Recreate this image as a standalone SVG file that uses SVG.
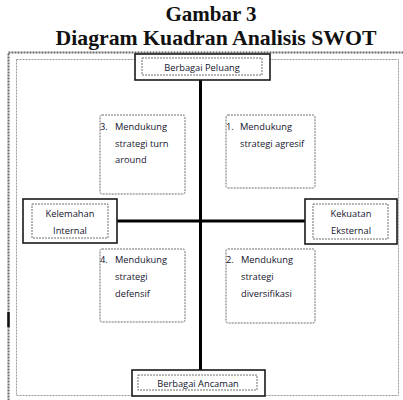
<svg xmlns="http://www.w3.org/2000/svg" width="403" height="400" viewBox="0 0 403 400">
<style>
.title{font-family:"Liberation Serif",serif;font-weight:bold;font-size:21px;fill:#111;text-anchor:middle}
.lbl{font-family:"Open Sans","Liberation Sans",sans-serif;font-size:9.3px;fill:#14142e}
.c{text-anchor:middle}
.solid{fill:#fff;stroke:#1a1a1a;stroke-width:1.6}
.dot{fill:none;stroke:#6f6f6f;stroke-width:1;stroke-dasharray:2,1}
.axis{stroke:#000;stroke-width:3;fill:none}
</style>
<rect width="403" height="400" fill="#fff"/>
<text class="title" x="211" y="21">Gambar 3</text>
<text class="title" x="216" y="45" textLength="321" lengthAdjust="spacingAndGlyphs">Diagram Kuadran Analisis SWOT</text>
<g id="frame">
<rect x="8.5" y="52.5" width="398" height="352" fill="none" stroke="#666" stroke-width="2" stroke-dasharray="2,1"/>
<rect x="16.5" y="59.5" width="382" height="336" fill="none" stroke="#999" stroke-width="1" stroke-dasharray="2,1"/>
<line x1="8.5" y1="312" x2="8.5" y2="327" stroke="#111" stroke-width="2.5"/>
</g>
<g id="connectors">
<line class="axis" x1="200.5" y1="79" x2="200.5" y2="371"/>
<line class="axis" x1="116" y1="221" x2="306" y2="221"/>
</g>
<g id="peluang">
<rect class="solid" x="135" y="54" width="135" height="26"/>
<rect class="dot" x="142" y="58" width="120" height="17"/>
<text class="lbl c" x="202" y="71">Berbagai Peluang</text>
</g>
<g id="ancaman">
<rect class="solid" x="132" y="370" width="133" height="26"/>
<rect class="dot" x="138" y="375" width="119" height="15"/>
<text class="lbl c" x="198" y="387">Berbagai Ancaman</text>
</g>
<g id="kelemahan">
<rect class="solid" x="23" y="199" width="94" height="44"/>
<rect class="dot" x="32" y="204" width="76" height="34"/>
<text class="lbl c" x="70" y="217">Kelemahan</text>
<text class="lbl c" x="70" y="234">Internal</text>
</g>
<g id="kekuatan">
<rect class="solid" x="305" y="199" width="92" height="45"/>
<rect class="dot" x="313" y="204" width="75" height="35"/>
<text class="lbl c" x="351" y="217">Kekuatan</text>
<text class="lbl c" x="351" y="234">Eksternal</text>
</g>
<g id="q3">
<rect class="dot" x="100" y="115" width="85" height="79" rx="2"/>
<text class="lbl" x="100" y="130">3.</text>
<text class="lbl" x="115" y="130">Mendukung</text>
<text class="lbl" x="115" y="147">strategi turn</text>
<text class="lbl" x="115" y="163">around</text>
</g>
<g id="q1">
<rect class="dot" x="226" y="115" width="89" height="73" rx="2"/>
<text class="lbl" x="226" y="130">1.</text>
<text class="lbl" x="240" y="130">Mendukung</text>
<text class="lbl" x="240" y="147">strategi agresif</text>
</g>
<g id="q4">
<rect class="dot" x="100" y="249" width="85" height="73" rx="2"/>
<text class="lbl" x="100" y="263">4.</text>
<text class="lbl" x="115" y="263">Mendukung</text>
<text class="lbl" x="115" y="280">strategi</text>
<text class="lbl" x="115" y="297">defensif</text>
</g>
<g id="q2">
<rect class="dot" x="226" y="249" width="89" height="74" rx="2"/>
<text class="lbl" x="226" y="263">2.</text>
<text class="lbl" x="241" y="263">Mendukung</text>
<text class="lbl" x="241" y="280">strategi</text>
<text class="lbl" x="241" y="297">diversifikasi</text>
</g>
</svg>
